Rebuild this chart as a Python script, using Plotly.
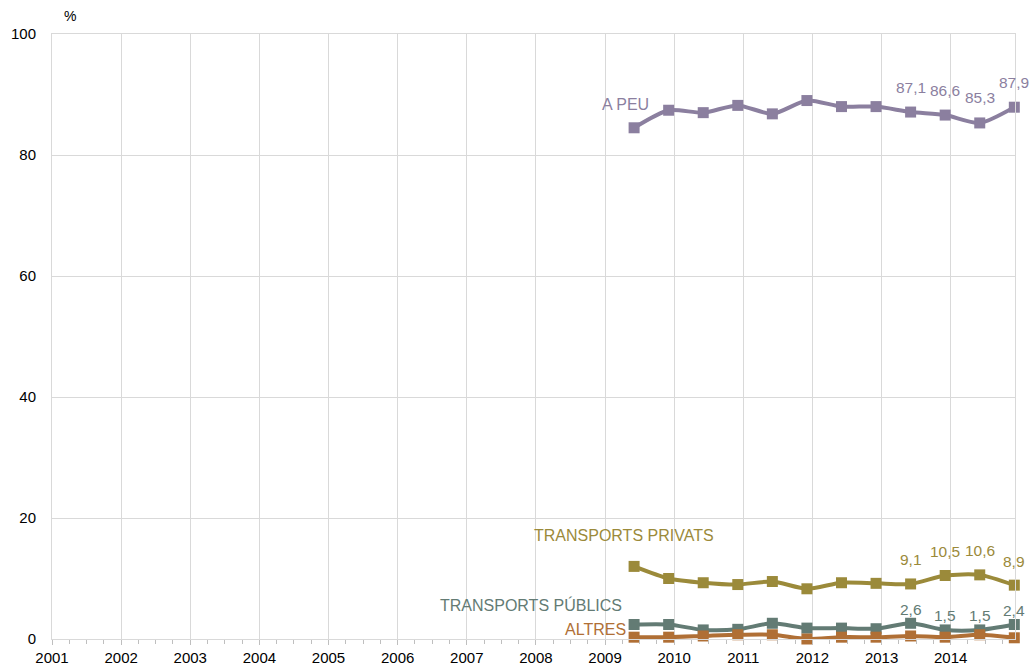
import plotly.graph_objects as go

# Survey points (half-yearly)
periods = [2009.42, 2009.92, 2010.42, 2010.92, 2011.42, 2011.92,
           2012.42, 2012.92, 2013.42, 2013.92, 2014.42, 2014.92]
a_peu = [84.5, 87.4, 87.0, 88.2, 86.8, 89.0, 88.0, 88.0, 87.1, 86.6, 85.3, 87.9]
privats = [12.0, 10.0, 9.3, 9.0, 9.5, 8.3, 9.3, 9.2, 9.1, 10.5, 10.6, 8.9]
publics = [2.4, 2.4, 1.5, 1.6, 2.6, 1.8, 1.8, 1.7, 2.6, 1.5, 1.5, 2.4]
altres = [0.3, 0.3, 0.5, 0.7, 0.7, 0.0, 0.3, 0.3, 0.5, 0.3, 0.7, 0.2]
labelled_from = 8  # last four points carry value labels
years = list(range(2001, 2015))
y_ticks = [0, 20, 40, 60, 80, 100]

series = [
    ("A PEU", a_peu, "#8B7F9F", True, 25, (2009.66, 88.3)),
    ("TRANSPORTS PRIVATS", privats, "#9B8A3A", True, 24, (2010.60, 17.1)),
    ("TRANSPORTS PÚBLICS", publics, "#637B74", True, 14, (2009.27, 5.7)),
    ("ALTRES", altres, "#B06F35", False, 0, (2009.33, 1.5)),
]

FONT = "Liberation Sans, Arial, sans-serif"
fig = go.Figure()
annotations = []
for name, vals, color, labelled, shift, (lx, ly) in series:
    fig.add_trace(go.Scatter(
        x=periods, y=vals, mode="lines+markers", name=name,
        line=dict(color=color, width=4, shape="spline", smoothing=0.7),
        marker=dict(symbol="square", size=11, color=color),
        cliponaxis=False, showlegend=False))
    annotations.append(dict(x=lx, y=ly, xref="x", yref="y", text=name,
                            showarrow=False, xanchor="right", yanchor="middle",
                            font=dict(family=FONT, size=16, color=color)))
    if labelled:
        for xv, yv in zip(periods[labelled_from:], vals[labelled_from:]):
            annotations.append(dict(x=xv, y=yv, xref="x", yref="y",
                                    text=f"{yv:.1f}".replace(".", ","),
                                    showarrow=False, yshift=shift,
                                    xanchor="center", yanchor="middle",
                                    font=dict(family=FONT, size=15.5, color=color)))

PLOT_W, PLOT_H = 963, 605
annotations.append(dict(x=18 / PLOT_W, y=1 + 18 / PLOT_H, xref="paper", yref="paper",
                        text="%", showarrow=False, xanchor="center", yanchor="middle",
                        font=dict(family=FONT, size=14, color="#000000")))

fig.update_layout(
    width=1030, height=667, autosize=False,
    margin=dict(l=52, r=15, t=34, b=28),
    paper_bgcolor="white", plot_bgcolor="white",
    font=dict(family=FONT, size=15, color="#000000"),
    annotations=annotations,
    xaxis=dict(range=[2001, 2014.93], tickmode="array", tickvals=years,
               ticktext=[str(y) for y in years], automargin=False,
               showgrid=True, gridcolor="#D9D9D9", gridwidth=1,
               showline=True, linecolor="#D9D9D9", linewidth=1, mirror=True,
               ticks="outside", ticklen=5, tickcolor="#BFBFBF",
               minor=dict(dtick=0.25, tick0=2001, ticks="outside", ticklen=4,
                          tickcolor="#BFBFBF", showgrid=False),
               zeroline=False, tickfont=dict(size=15)),
    yaxis=dict(range=[0, 100], tickmode="array", tickvals=y_ticks,
               showgrid=True, gridcolor="#D9D9D9", gridwidth=1,
               showline=True, linecolor="#D9D9D9", linewidth=1, mirror=True,
               ticks="", zeroline=False, ticklabelstandoff=12, automargin=False,
               tickfont=dict(size=15)),
)

# remove the page's default 8px body margin so the figure fills the window exactly
fig.write_html("out.html",
               config={"displayModeBar": False},
               post_script="document.body.style.margin='0';"
                           "document.body.style.overflow='hidden';")
